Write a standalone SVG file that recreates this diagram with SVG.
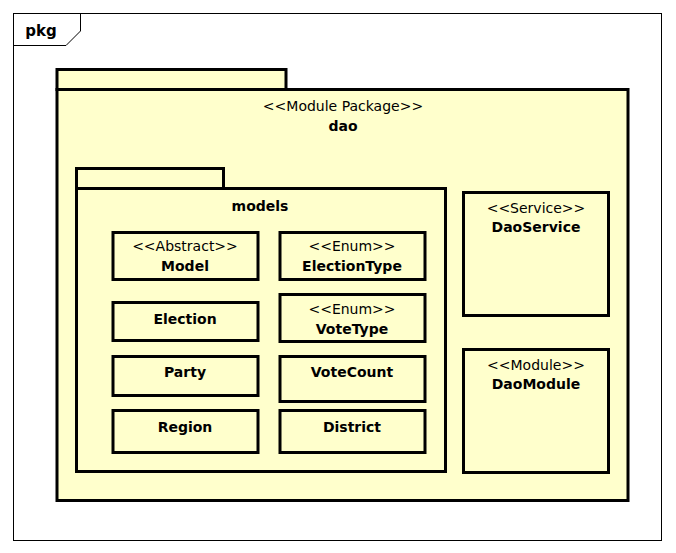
<svg xmlns="http://www.w3.org/2000/svg" width="676" height="553" viewBox="0 0 676 553">
<style>
.pk{fill:#ffffcc;stroke:#000;stroke-width:3}
.cl{fill:#ffffcc;stroke:#000;stroke-width:3}
text{font-family:"DejaVu Sans","Liberation Sans",sans-serif;font-size:14px;fill:#000;text-anchor:middle}
.b{font-weight:bold}
</style>
<rect x="0" y="0" width="676" height="553" fill="#fff"/>
<g id="frame">
<rect x="13.5" y="13.5" width="648" height="527" fill="#fff" stroke="#000" stroke-width="1"/>
<path d="M13.5 45.5 H66 L80.5 31 V13.5" fill="none" stroke="#000" stroke-width="1"/>
<text x="41" y="36" class="b" style="font-size:15px">pkg</text>
</g>
<g id="dao">
<rect class="pk" x="57" y="69.5" width="229" height="20"/>
<rect class="pk" x="57" y="89.5" width="571" height="411"/>
<text x="343" y="111">&lt;&lt;Module Package&gt;&gt;</text>
<text x="343" y="131" class="b">dao</text>
</g>
<g id="models">
<rect class="pk" x="76.5" y="168.5" width="147" height="20"/>
<rect class="pk" x="76.5" y="188.5" width="369" height="283"/>
<text x="260" y="211" class="b">models</text>
</g>
<g id="Model">
<rect class="cl" x="113" y="232.5" width="145" height="47"/>
<text x="185" y="251">&lt;&lt;Abstract&gt;&gt;</text>
<text x="185" y="271" class="b">Model</text>
</g>
<g id="ElectionType">
<rect class="cl" x="280" y="232.5" width="145" height="47"/>
<text x="352" y="251">&lt;&lt;Enum&gt;&gt;</text>
<text x="352" y="271" class="b">ElectionType</text>
</g>
<g id="Election">
<rect class="cl" x="113" y="302.5" width="145" height="38"/>
<text x="185" y="324" class="b">Election</text>
</g>
<g id="VoteType">
<rect class="cl" x="280" y="294.5" width="145" height="47"/>
<text x="352" y="314">&lt;&lt;Enum&gt;&gt;</text>
<text x="352" y="334" class="b">VoteType</text>
</g>
<g id="Party">
<rect class="cl" x="113" y="356.5" width="145" height="39"/>
<text x="185" y="377" class="b">Party</text>
</g>
<g id="VoteCount">
<rect class="cl" x="280" y="356.5" width="145" height="45"/>
<text x="352" y="377" class="b">VoteCount</text>
</g>
<g id="Region">
<rect class="cl" x="113" y="410.5" width="145" height="42"/>
<text x="185" y="432" class="b">Region</text>
</g>
<g id="District">
<rect class="cl" x="280" y="410.5" width="145" height="42"/>
<text x="352" y="432" class="b">District</text>
</g>
<g id="DaoService">
<rect class="cl" x="463.5" y="192.5" width="145" height="123"/>
<text x="536" y="213">&lt;&lt;Service&gt;&gt;</text>
<text x="536" y="232" class="b">DaoService</text>
</g>
<g id="DaoModule">
<rect class="cl" x="463.5" y="349.5" width="145" height="123"/>
<text x="536" y="370">&lt;&lt;Module&gt;&gt;</text>
<text x="536" y="389" class="b">DaoModule</text>
</g>
<g id="connectors"></g>
</svg>
